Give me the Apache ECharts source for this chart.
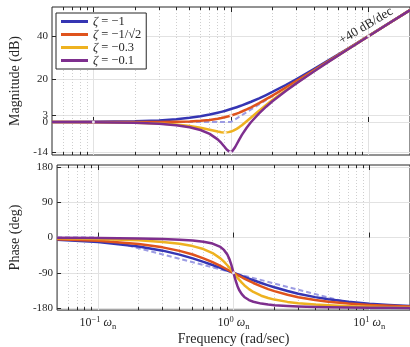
<!DOCTYPE html>
<html>
<head>
<meta charset="utf-8">
<title>bode</title>
<script src="https://cdn.jsdelivr.net/npm/echarts@6/dist/echarts.min.js"></script>
<style>
  * { margin: 0; padding: 0; }
  #main { width: 410px; height: 347px; background: #fff; }
</style>
</head>
<body>
<div id="main"></div>
<script>
// frequencies, in units of wn
var w = [0.05, 0.1, 0.2, 0.3, 0.4, 0.5, 0.6, 0.7, 0.8, 0.85, 0.9, 0.93, 0.96, 0.98, 1,
         1.02, 1.04, 1.07, 1.1, 1.15, 1.2, 1.3, 1.4, 1.6, 1.8, 2, 2.5, 3, 4, 5, 7, 10, 14, 20];

// magnitude (dB)
var magA = [0.02, 0.09, 0.34, 0.75, 1.29, 1.94, 2.67, 3.46, 4.30, 4.72, 5.15, 5.41, 5.67, 5.85, 6.02,
            6.19, 6.37, 6.63, 6.89, 7.32, 7.75, 8.60, 9.43, 11.03, 12.55, 13.98, 17.21, 20.00, 24.61, 28.30, 33.98, 40.09, 45.89, 52.06];
var magB = [0.00, 0.00, 0.01, 0.04, 0.11, 0.26, 0.53, 0.93, 1.49, 1.82, 2.19, 2.43, 2.67, 2.84, 3.01,
            3.19, 3.36, 3.64, 3.92, 4.39, 4.88, 5.86, 6.85, 8.78, 10.61, 12.30, 16.03, 19.14, 24.10, 27.97, 33.81, 40.00, 45.85, 52.04];
var magC = [-0.02, -0.07, -0.29, -0.65, -1.17, -1.85, -2.68, -3.60, -4.44, -4.72, -4.85, -4.82, -4.71, -4.59, -4.44,
            -4.25, -4.02, -3.63, -3.19, -2.37, -1.48, 0.35, 2.11, 5.26, 7.91, 10.19, 14.74, 18.28, 23.63, 27.67, 33.66, 39.93, 45.81, 52.02];
var magD = [-0.02, -0.09, -0.35, -0.80, -1.48, -2.42, -3.73, -5.53, -8.09, -9.75, -11.64, -12.77, -13.66, -13.98, -13.98,
            -13.64, -13.02, -11.75, -10.34, -8.04, -6.00, -2.65, 0.00, 4.04, 7.12, 9.62, 14.44, 18.09, 23.53, 27.61, 33.63, 39.91, 45.80, 52.02];

// phase (deg)
var phA = [-5.72, -11.42, -22.62, -33.40, -43.60, -53.13, -61.93, -69.98, -77.32, -80.73, -83.97, -85.83, -87.66, -88.84, -90,
           -91.13, -92.25, -93.86, -95.45, -97.98, -100.39, -104.86, -108.92, -115.99, -121.89, -126.87, -136.40, -143.13, -151.93, -157.38, -163.74, -168.58, -171.83, -174.28];
var phB = [-4.05, -8.13, -16.42, -25.00, -33.96, -43.31, -52.97, -62.74, -72.35, -77.00, -81.51, -84.13, -86.70, -88.36, -90,
           -91.60, -93.18, -95.47, -97.69, -101.22, -104.54, -110.57, -115.87, -124.58, -131.35, -136.69, -146.04, -152.06, -159.33, -163.58, -168.35, -171.87, -174.20, -175.95];
var phC = [-1.72, -3.47, -7.13, -11.19, -15.95, -21.80, -29.36, -39.47, -53.13, -61.45, -70.61, -76.39, -82.25, -86.15, -90,
           -93.78, -97.45, -102.72, -107.65, -115.05, -121.43, -131.50, -138.81, -148.39, -154.26, -158.20, -164.05, -167.32, -170.91, -172.87, -175.00, -176.53, -177.53, -178.28];
var phD = [-0.57, -1.16, -2.39, -3.77, -5.44, -7.59, -10.62, -15.35, -23.96, -31.49, -43.45, -54.01, -67.79, -78.58, -90,
           -101.20, -111.42, -124.10, -133.67, -144.50, -151.39, -159.35, -163.74, -168.41, -170.87, -172.41, -174.56, -175.71, -176.95, -177.61, -178.33, -178.84, -179.18, -179.43];

// straight-line asymptotes
var asymW = [0.05, 0.1, 1, 10, 20];
var asymMag = [0, 0, 0, 40, 52.04];
var asymPh = [0, 0, -90, -180, -180];

// highlighted points
var dotMagW = [0.1, 0.906, 1, 0.99, 10];
var dotMag = [0, -4.85, 3.01, -14.02, 40];
var dotPhW = [1];
var dotPh = [-90];

var names = ['ζ = −1', 'ζ = −1/√2', 'ζ = −0.3', 'ζ = −0.1'];
var colors = ['#3535b3', '#df531d', '#eeb220', '#7e2f8e'];

// ticks
var xMajor = [0.1, 1, 10];
var xExp = ['−1', '0', '1'];
var xMinor = [0.06, 0.07, 0.08, 0.09, 0.2, 0.3, 0.4, 0.5, 0.6, 0.7, 0.8, 0.9, 2, 3, 4, 5, 6, 7, 8, 9];
var magTicks = [-14, 0, 3, 20, 40];
var magLabels = ['-14', '0', '3', '20', '40'];
var phTicks = [-180, -90, 0, 90, 180];
var phLabels = ['-180', '-90', '0', '90', '180'];

var serif = 'Liberation Serif';
var ink = '#262626';

function pairs(xs, ys) {
    return xs.map(function (x, i) { return [x, ys[i]]; });
}

function xAx(g, pos, ticks, len, split, label) {
    return {
        type: 'log', logBase: 10, gridIndex: g, position: pos, min: 0.05, max: 20, z: 0,
        axisLine: { show: false },
        axisTick: { show: true, inside: true, length: len, customValues: ticks, lineStyle: { color: ink, width: 1 } },
        axisLabel: label || { show: false },
        splitLine: split ? { show: true, lineStyle: split } : { show: false },
        minorTick: { show: false }
    };
}

function yAx(g, min, max, ticks, labels, name) {
    return {
        type: 'value', gridIndex: g, min: min, max: max, z: 0,
        name: name, nameLocation: 'middle', nameGap: 30,
        nameTextStyle: { fontFamily: serif, fontSize: 14, color: ink },
        axisLine: { show: false },
        axisTick: { show: true, inside: true, length: 4, customValues: ticks, lineStyle: { color: ink } },
        axisLabel: {
            customValues: ticks, margin: 4, fontFamily: serif, fontSize: 11, color: ink,
            formatter: function (v) { return labels[ticks.indexOf(v)]; }
        },
        splitLine: { show: true, lineStyle: { color: '#e2e2e2', width: 1 } }
    };
}

var majorGrid = { color: '#e2e2e2', width: 1 };
var minorGrid = { color: '#cfcfcf', width: 1, type: [1, 2] };

var freqLabel = {
    show: true, customValues: xMajor, margin: 5, color: ink,
    formatter: function (v) {
        var e = xExp[Math.round(Math.log10(v)) + 1];
        return '{b|10}{s|' + e + '}{w| ω}{n|n}';
    },
    rich: {
        b: { fontFamily: serif, fontSize: 12, color: ink, lineHeight: 16 },
        s: { fontFamily: serif, fontSize: 8.5, color: ink, verticalAlign: 'top', lineHeight: 9 },
        w: { fontFamily: serif, fontSize: 12, fontStyle: 'italic', color: ink, lineHeight: 16 },
        n: { fontFamily: serif, fontSize: 8.5, color: ink, verticalAlign: 'bottom', lineHeight: 9 }
    }
};

var xAxes = [
    xAx(0, 'bottom', xMajor, 5, majorGrid),
    xAx(0, 'bottom', xMinor, 3, minorGrid),
    xAx(0, 'top', xMajor, 5, null),
    xAx(0, 'top', xMinor, 3, null),
    xAx(1, 'bottom', xMajor, 5, majorGrid, freqLabel),
    xAx(1, 'bottom', xMinor, 3, minorGrid),
    xAx(1, 'top', xMajor, 5, null),
    xAx(1, 'top', xMinor, 3, null)
];
xAxes[4].name = 'Frequency (rad/sec)';
xAxes[4].nameLocation = 'middle';
xAxes[4].nameGap = 20;
xAxes[4].nameTextStyle = { fontFamily: serif, fontSize: 14, color: ink };

var series = [];
series.push({
    type: 'line', xAxisIndex: 0, yAxisIndex: 0, data: pairs(asymW, asymMag), symbol: 'none', z: 3,
    lineStyle: { color: '#9c9ce3', width: 2, type: [5, 3] }, silent: true
});
series.push({
    type: 'line', xAxisIndex: 4, yAxisIndex: 1, data: pairs(asymW, asymPh), symbol: 'none', z: 3,
    lineStyle: { color: '#9c9ce3', width: 2, type: [5, 3] }, silent: true
});
var mags = [magA, magB, magC, magD];
var phs = [phA, phB, phC, phD];
for (var i = 0; i < 4; i++) {
    series.push({
        name: names[i], type: 'line', xAxisIndex: 0, yAxisIndex: 0, data: pairs(w, mags[i]),
        symbol: 'none', z: 4 + i,
        lineStyle: { color: colors[i], width: 2.5, join: 'round' }, itemStyle: { color: colors[i] }
    });
    series.push({
        name: names[i], type: 'line', xAxisIndex: 4, yAxisIndex: 1, data: pairs(w, phs[i]),
        symbol: 'none', z: 4 + i,
        lineStyle: { color: colors[i], width: 2.5, join: 'round' }, itemStyle: { color: colors[i] }
    });
}
series.push({
    type: 'scatter', xAxisIndex: 0, yAxisIndex: 0, data: pairs(dotMagW, dotMag), symbolSize: 3, z: 10,
    itemStyle: { color: '#fff', opacity: 0.85 }, silent: true
});
series.push({
    type: 'scatter', xAxisIndex: 4, yAxisIndex: 1, data: pairs(dotPhW, dotPh), symbolSize: 3, z: 10,
    itemStyle: { color: '#fff', opacity: 0.85 }, silent: true
});

var option = {
    animation: false,
    backgroundColor: '#fff',
    grid: [
        { left: 51, top: 7, width: 359, height: 148, show: true, borderColor: ink, borderWidth: 1, backgroundColor: '#fff', z: 0 },
        { left: 51, top: 165, width: 359, height: 148, show: true, borderColor: ink, borderWidth: 1, backgroundColor: '#fff', z: 0 }
    ],
    xAxis: xAxes,
    yAxis: [
        yAx(0, -15.35, 53.5, magTicks, magLabels, 'Magnitude (dB)'),
        yAx(1, -185, 185, phTicks, phLabels, 'Phase (deg)')
    ],
    legend: {
        data: names, orient: 'vertical', left: 56, top: 13, z: 20,
        padding: [2, 5, 2, 5], itemGap: 0, itemWidth: 27, itemHeight: 3, icon: 'rect',
        borderColor: ink, borderWidth: 1, backgroundColor: '#fff', borderRadius: 0,
        formatter: function (n) { return '{i|ζ}' + n.slice(1); },
        textStyle: {
            fontFamily: serif, fontSize: 12.5, color: ink, lineHeight: 13,
            rich: { i: { fontFamily: serif, fontSize: 12.5, fontStyle: 'italic', color: ink, lineHeight: 13 } }
        }
    },
    graphic: [{
        type: 'text', x: 366, y: 26, rotation: 31 * Math.PI / 180, z: 20,
        style: { text: '+40 dB/dec', fontFamily: serif, fontSize: 13, fill: ink, align: 'center', verticalAlign: 'middle' }
    }],
    series: series
};

var chart = echarts.init(document.getElementById('main'));
chart.setOption(option);
</script>
</body>
</html>
